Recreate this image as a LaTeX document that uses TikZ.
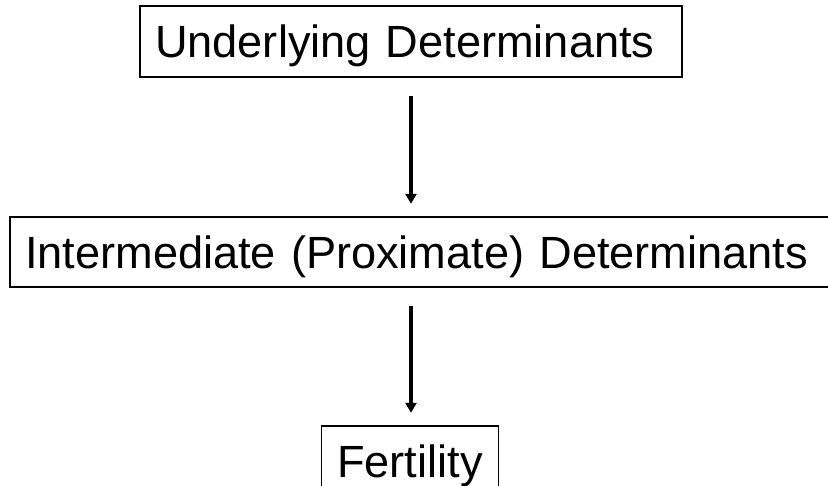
\documentclass[tikz,border=0pt]{standalone}
\usepackage{fontspec}
\setmainfont{Liberation Sans}
\usetikzlibrary{arrows.meta}
\begin{document}
\begin{tikzpicture}[x=0.02cm,y=-0.02cm,
  box/.style={draw,line width=1.1pt,inner ysep=0pt,minimum height=1.41cm,
    text height=18.4pt,text depth=0pt,font=\fontsize{25.7}{30}\selectfont},
  link/.style={line width=2.2pt,-{Triangle[width=0.22cm,length=0.2cm]},
    shorten <=0.36cm,shorten >=0.24cm}]
\path[use as bounding box] (0,0) rectangle (828,485);

\node[box,inner xsep=0.3cm,text width=10.24cm,align=left] (under) at (411,41.5) {Underlying Determinants};
\node[box,inner xsep=0.3cm,text width=16.2cm,align=left] (inter) at (430,252) {Intermediate (Proximate) Determinants};
\node[box,inner xsep=0pt,minimum width=3.54cm] (fert) at (410,461) {Fertility};

\path[draw,link] (under.south) -- (under.south |- inter.north);
\path[draw,link] ([xshift=0.02cm]fert.north |- inter.south) -- ([xshift=0.02cm]fert.north);
\end{tikzpicture}
\end{document}
